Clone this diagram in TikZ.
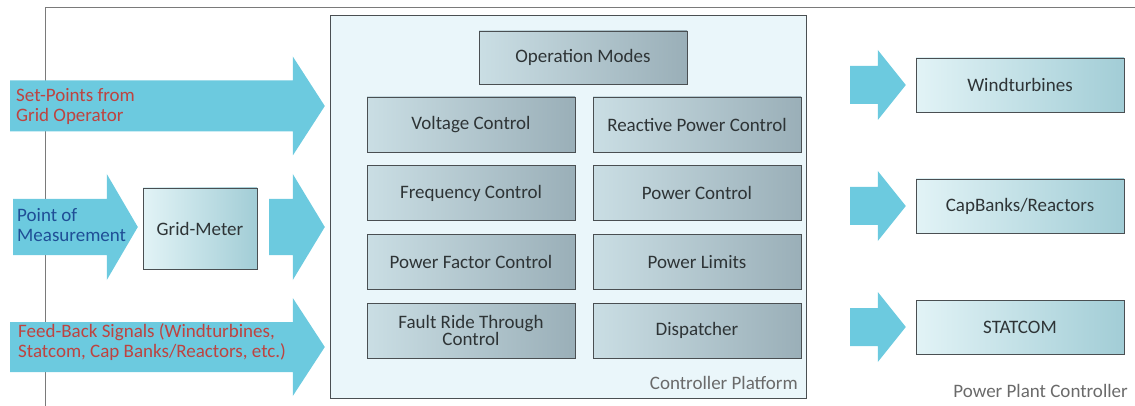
\documentclass[tikz,border=0pt]{standalone}
\usepackage{fontspec}
\setmainfont{Carlito}
\usetikzlibrary{calc}

\definecolor{arrowcyan}{HTML}{6CCADF}
\definecolor{framegray}{HTML}{7A7A7A}
\definecolor{boxline}{HTML}{4A4F52}
\definecolor{platformfill}{HTML}{EAF6FA}
\definecolor{funcleft}{HTML}{CADEE4}
\definecolor{funcright}{HTML}{9AAFB8}
\definecolor{unitleft}{HTML}{E2F3F6}
\definecolor{unitright}{HTML}{A2CDD6}
\definecolor{textgray}{HTML}{2E3436}
\definecolor{labelgray}{HTML}{6A6A6A}
\definecolor{inred}{HTML}{BE4340}
\definecolor{inblue}{HTML}{1F4E96}

% fat arrow: tail, tip, shaft half width, head half width, head length
\newcommand{\fatarrow}[5]{%
  \fill[arrowcyan] ($(#1)+(0,#3)$) -- ($(#2)+(-#5,#3)$) -- ($(#2)+(-#5,#4)$) -- (#2)
    -- ($(#2)+(-#5,-#4)$) -- ($(#2)+(-#5,-#3)$) -- ($(#1)+(0,-#3)$) -- cycle;}

\begin{document}
\begin{tikzpicture}[x=1pt, y=-1pt,
    every node/.style={font=\fontsize{19}{20}\selectfont, text=textgray},
    func/.style={rectangle, draw=boxline, left color=funcleft, right color=funcright,
        minimum width=208pt, minimum height=55pt, inner sep=2pt, align=center},
    unit/.style={rectangle, draw=boxline, left color=unitleft, right color=unitright,
        minimum height=54pt, inner sep=2pt, align=center},
    intext/.style={anchor=west, align=left, inner sep=0pt}]
    \useasboundingbox (0,0) rectangle (1135,406);

    % power plant controller frame
    \draw[framegray, line width=0.8pt] (45,406) -- (45,7) -- (1135,7);
    \node[text=labelgray, anchor=south east, inner sep=0pt] (ppc) at (1128,398) {Power Plant Controller};

    % controller platform
    \node[rectangle, draw=boxline, fill=platformfill, minimum width=476pt, minimum height=383pt]
        (platform) at (568,206.5) {};
    \node[text=labelgray, anchor=south east, inner sep=0pt] (cp) at (798,390) {Controller Platform};

    \node[func, minimum height=53pt] (modes) at (583,57.5) {Operation Modes};
    \node[func] (voltage) at (471,124.5) {Voltage Control};
    \node[func] (reactive) at (697,124.5) {Reactive Power Control};
    \node[func] (freq) at (471,193) {Frequency Control};
    \node[func] (power) at (697,193) {Power Control};
    \node[func] (pf) at (471,262) {Power Factor Control};
    \node[func] (limits) at (697,262) {Power Limits};
    \node[func] (frt) at (471,330.5) {Fault Ride Through\\[-3pt]Control};
    \node[func] (dispatch) at (697,330.5) {Dispatcher};

    % inputs
    \node[unit, minimum width=114pt, minimum height=81pt] (meter) at (200,228.5) {Grid-Meter};

    \coordinate (sp tail) at (10,106);
    \coordinate (pm tail) at (13,227);
    \coordinate (gm tail) at (269,227);
    \coordinate (fb tail) at (10,347);
    \fatarrow{sp tail}{[xshift=-5pt]platform.west |- sp tail}{25.5}{49.5}{32}
    \fatarrow{pm tail}{[xshift=-5pt]meter.west |- pm tail}{28}{53}{31}
    \fatarrow{gm tail}{[xshift=-5pt]platform.west |- gm tail}{28}{53}{32}
    \fatarrow{fb tail}{[xshift=-5pt]platform.west |- fb tail}{25}{49}{32}

    \node[intext, text=inred] (setpoints) at (16,106) {Set-Points from\\Grid Operator};
    \node[intext, text=inblue] (pom) at (17,225) {Point of\\Measurement};
    \node[intext, text=inred] (feedback) at (18,342) {Feed-Back Signals (Windturbines,\\Statcom, Cap Banks/Reactors, etc.)};

    % outputs
    \node[unit, minimum width=208pt] (wt) at (1020,85) {Windturbines};
    \node[unit, minimum width=208pt] (cap) at (1020,206) {CapBanks/Reactors};
    \node[unit, minimum width=208pt] (statcom) at (1020,327) {STATCOM};

    \coordinate (wt tail) at (850,85);
    \coordinate (cap tail) at (850,206);
    \coordinate (st tail) at (850,327);
    \fatarrow{wt tail}{[xshift=-10pt]wt.west}{19}{35}{28}
    \fatarrow{cap tail}{[xshift=-10pt]cap.west}{19}{35}{28}
    \fatarrow{st tail}{[xshift=-10pt]statcom.west}{19}{35}{28}
\end{tikzpicture}
\end{document}
